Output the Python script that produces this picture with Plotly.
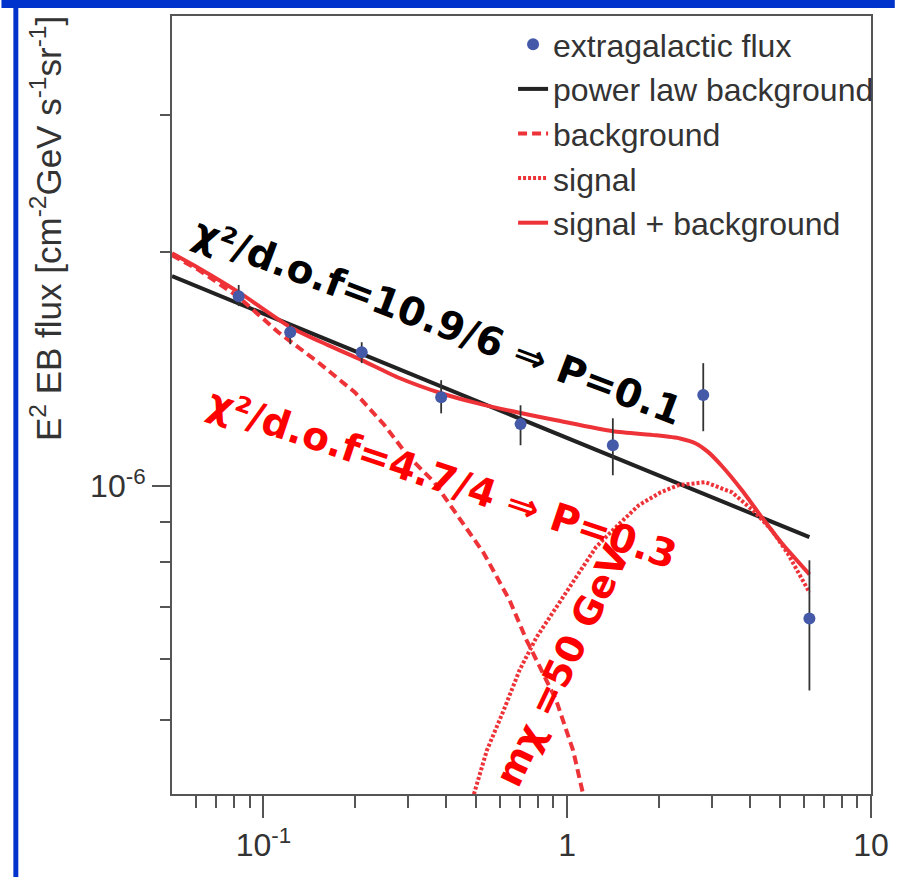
import numpy as np
import plotly.graph_objects as go

# ---- measured extragalactic flux (E in GeV, E^2 dN/dE in GeV cm^-2 s^-1 sr^-1) ----
energy = [0.0829, 0.1225, 0.2106, 0.3846, 0.702, 1.413, 2.804, 6.27]
flux = [1.756e-6, 1.578e-6, 1.487e-6, 1.302e-6, 1.202e-6, 1.129e-6, 1.310e-6, 0.676e-6]
flux_err_up = [0.059e-6, 0.043e-6, 0.045e-6, 0.067e-6, 0.069e-6, 0.094e-6, 0.130e-6, 0.127e-6]
flux_err_down = [0.051e-6, 0.055e-6, 0.047e-6, 0.061e-6, 0.073e-6, 0.096e-6, 0.133e-6, 0.130e-6]

# ---- single power-law fit (straight line in log-log) ----
powerlaw_energy = [0.05, 6.27]
powerlaw_flux = [1.863e-6, 0.860e-6]

# ---- background component of the signal + background fit ----
bkg_energy = [0.05, 0.0613, 0.0829, 0.1119, 0.1513, 0.1998, 0.2504, 0.2977, 0.3648,
              0.4116, 0.5314, 0.6464, 0.7345, 0.8222, 0.9206, 1.046, 1.128]
bkg_flux = [1.983e-6, 1.897e-6, 1.751e-6, 1.578e-6, 1.444e-6, 1.321e-6, 1.198e-6, 1.096e-6,
            1.012e-6, 0.945e-6, 0.820e-6, 0.713e-6, 0.634e-6, 0.580e-6, 0.530e-6, 0.457e-6, 0.4015e-6]

# ---- dark matter annihilation signal, m_chi = 50 GeV ----
sig_energy = [0.4929, 0.5436, 0.6178, 0.6969, 0.7918, 0.9206, 1.070, 1.244, 1.446, 1.719,
              2.029, 2.323, 2.846, 3.487, 4.146, 4.713, 5.315, 6.178, 6.27]
sig_flux = [0.4015e-6, 0.457e-6, 0.515e-6, 0.580e-6, 0.639e-6, 0.699e-6, 0.764e-6, 0.835e-6,
            0.886e-6, 0.945e-6, 0.982e-6, 1.003e-6, 1.012e-6, 0.982e-6, 0.926e-6, 0.878e-6,
            0.820e-6, 0.735e-6, 0.730e-6]

# ---- signal + background ----
tot_energy = [0.05, 0.0613, 0.0829, 0.1225, 0.1631, 0.2106, 0.2762, 0.3846, 0.5041, 0.702,
              0.9206, 1.413, 1.953, 2.350, 2.650, 2.900, 3.235, 3.760, 4.370, 5.080, 6.272]
tot_flux = [1.994e-6, 1.908e-6, 1.777e-6, 1.602e-6, 1.519e-6, 1.453e-6, 1.381e-6, 1.317e-6,
            1.279e-6, 1.242e-6, 1.216e-6, 1.177e-6, 1.163e-6, 1.152e-6, 1.135e-6, 1.108e-6,
            1.061e-6, 0.988e-6, 0.912e-6, 0.845e-6, 0.770e-6]

x_major = [0.1, 1, 10]
x_major_text = ["10<sup>-1</sup>", "1", "10"]
x_minor = [0.06, 0.07, 0.08, 0.09, 0.2, 0.3, 0.4, 0.5, 0.6, 0.7, 0.8, 0.9,
           2, 3, 4, 5, 6, 7, 8, 9]
y_major = [1e-6]
y_major_text = ["10<sup>-6</sup>"]
y_minor = [5e-7, 6e-7, 7e-7, 8e-7, 9e-7, 2e-6, 3e-6]

# ---- page geometry ----
W, H = 901, 877
ML, MR, MT, MB = 172, 24, 16, 83
PW, PH = W - ML - MR, H - MT - MB


def px_x(px):
    return (px - ML) / PW


def px_y(py):
    return (H - MB - py) / PH


RED = "#ee3338"
AXIS = "#555555"
TEXT = "#333333"
SANS = "Liberation Sans, Arial, sans-serif"
HAND = "DejaVu Sans, Verdana, sans-serif"

fig = go.Figure()

fig.add_trace(go.Scatter(
    x=powerlaw_energy, y=powerlaw_flux, mode="lines", name="power law background",
    line=dict(color="#222222", width=4), legendrank=2))
fig.add_trace(go.Scatter(
    x=bkg_energy, y=bkg_flux, mode="lines", name="background",
    line=dict(color=RED, width=4, dash="9px,5px"), legendrank=3))
fig.add_trace(go.Scatter(
    x=sig_energy, y=sig_flux, mode="lines", name="signal",
    line=dict(color=RED, width=4, dash="3px,2px"), legendrank=4))
fig.add_trace(go.Scatter(
    x=tot_energy, y=tot_flux, mode="lines", name="signal + background",
    line=dict(color=RED, width=4, shape="spline", smoothing=0.6), legendrank=5))
fig.add_trace(go.Scatter(
    x=energy, y=flux, mode="markers", name="extragalactic flux",
    marker=dict(color="#4459a8", size=12),
    error_y=dict(type="data", symmetric=False, array=flux_err_up, arrayminus=flux_err_down,
                 color="#333333", thickness=1.8, width=0),
    legendrank=1))

# fit-quality labels
fig.add_annotation(x=np.log10(0.376), y=np.log10(1.631e-6), xref="x", yref="y",
                   text="χ²/d.o.f=10.9/6 ⇒ P=0.1", showarrow=False, textangle=20.7,
                   font=dict(family=HAND, size=39, color="black", weight="bold"))
fig.add_annotation(x=np.log10(0.3876), y=np.log10(1.024e-6), xref="x", yref="y",
                   text="χ²/d.o.f=4.7/4 ⇒ P=0.3", showarrow=False, textangle=18.5,
                   font=dict(family=HAND, size=39, color="#ff0000", weight="bold"))
fig.add_annotation(x=np.log10(0.970), y=np.log10(0.588e-6), xref="x", yref="y",
                   text="mχ =50 GeV", showarrow=False, textangle=-64.5,
                   font=dict(family=HAND, size=38, color="#ff0000", weight="bold"))

# vertical axis title, aligned toward the top of the axis
fig.add_annotation(x=px_x(45), y=px_y(229), xref="paper", yref="paper",
                   text="E<sup>2</sup> EB flux [cm<sup>-2</sup>GeV s<sup>-1</sup>sr<sup>-1</sup>]",
                   showarrow=False, textangle=-90, xanchor="center", yanchor="middle",
                   font=dict(family=SANS, size=35, color=TEXT))

# slide frame bars
BLUE = "#0033cc"
fig.add_shape(type="rect", xref="paper", yref="paper", x0=px_x(0), x1=px_x(W),
              y0=px_y(8), y1=px_y(0), fillcolor=BLUE, line=dict(width=0), layer="above")
fig.add_shape(type="rect", xref="paper", yref="paper", x0=px_x(12), x1=px_x(17),
              y0=px_y(H), y1=px_y(8), fillcolor=BLUE, line=dict(width=0), layer="above")

fig.update_xaxes(
    type="log", range=[np.log10(0.05), 1.0],
    showline=True, mirror=True, linecolor=AXIS, linewidth=2,
    showgrid=False, zeroline=False,
    ticks="outside", ticklen=22, tickwidth=2, tickcolor=AXIS,
    tickvals=x_major, ticktext=x_major_text,
    tickfont=dict(family=SANS, size=32, color=TEXT),
    minor=dict(tickvals=x_minor, ticks="outside", ticklen=12, tickwidth=2, tickcolor=AXIS),
)
fig.update_yaxes(
    type="log", range=[-6.396, -5.395],
    showline=True, mirror=True, linecolor=AXIS, linewidth=2,
    showgrid=False, zeroline=False,
    ticks="outside", ticklen=18, tickwidth=2, tickcolor=AXIS,
    tickvals=y_major, ticktext=y_major_text,
    tickfont=dict(family=SANS, size=32, color=TEXT),
    minor=dict(tickvals=y_minor, ticks="outside", ticklen=10, tickwidth=2, tickcolor=AXIS),
)

fig.update_layout(
    width=W, height=H,
    margin=dict(l=ML, r=MR, t=MT, b=MB, pad=0),
    paper_bgcolor="white", plot_bgcolor="white",
    showlegend=True,
    legend=dict(x=px_x(516), y=px_y(17), xanchor="left", yanchor="top",
                bgcolor="rgba(0,0,0,0)", borderwidth=0,
                font=dict(family=SANS, size=32, color=TEXT)),
)

fig.write_html("out.html")
